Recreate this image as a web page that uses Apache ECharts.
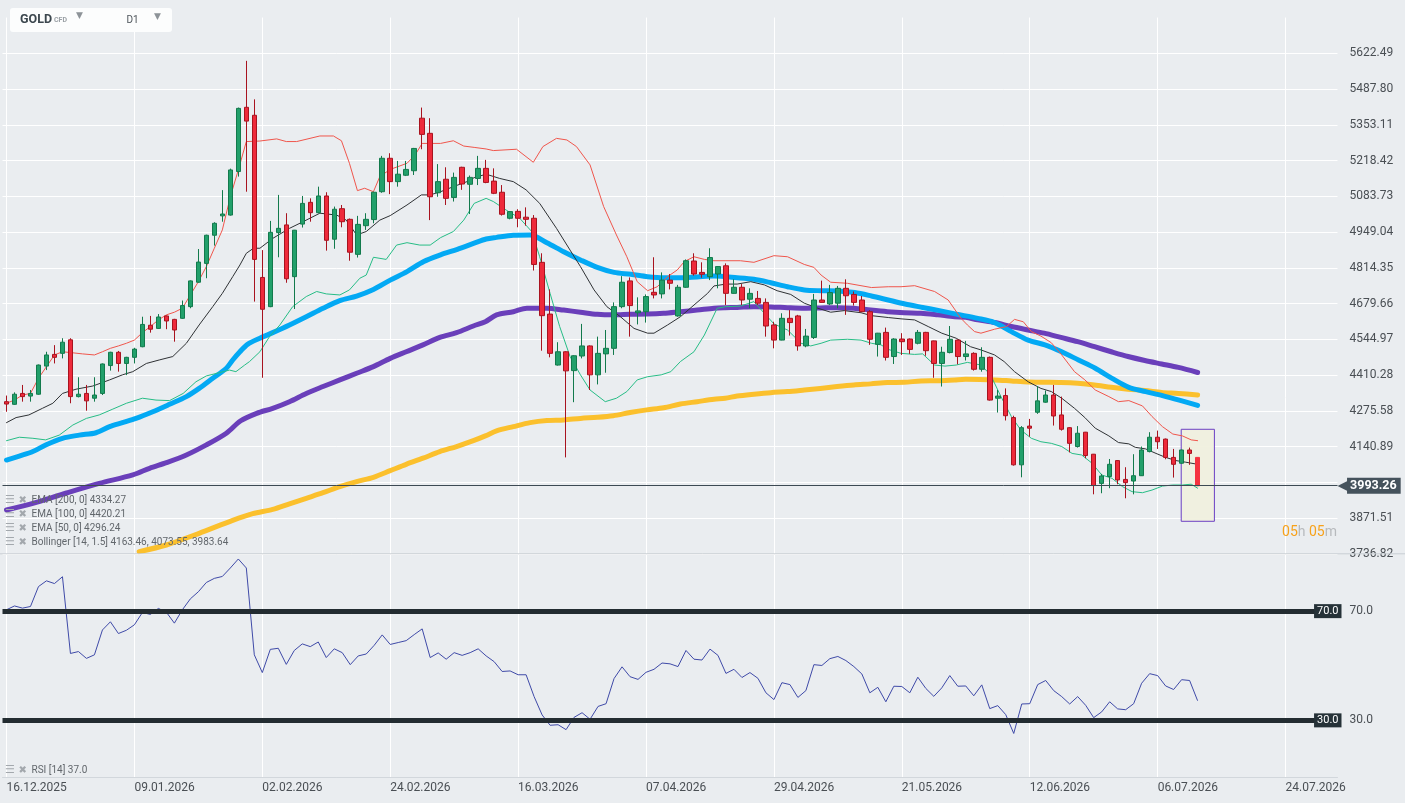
<!DOCTYPE html>
<html>
<head>
<meta charset="utf-8">
<title>GOLD D1</title>
<script src="https://cdn.jsdelivr.net/npm/echarts@6/dist/echarts.min.js"></script>
<style>
  html, body { margin: 0; padding: 0; background: #eaedf0; }
  #chart { width: 1405px; height: 803px; }
</style>
</head>
<body>
<div id="chart"></div>
<script>
// x tick labels, one every 16 candles
const tickLabels = ['16.12.2025', '09.01.2026', '02.02.2026', '24.02.2026', '16.03.2026', '07.04.2026',
  '29.04.2026', '21.05.2026', '12.06.2026', '06.07.2026', '24.07.2026'];

// price axis labels, bottom to top (the one under the price tag is hidden)
const priceLabels = ['3736.82', '3871.51', '', '4140.89', '4275.58', '4410.28', '4544.97', '4679.66',
  '4814.35', '4949.04', '5083.73', '5218.42', '5353.11', '5487.80', '5622.49', ''];
const priceMin = 3736.82;
const priceStep = 134.69;

// daily candles: [open, close, low, high]
const candles = [
  [4310,4301,4272,4333],[4300,4338,4298,4345],[4341,4329,4310,4373],[4331,4341,4310,4354],[4338,4448,4336,4450],
  [4444,4486,4429,4498],[4488,4477,4454,4523],[4492,4534,4473,4549],[4543,4329,4304,4549],[4329,4338,4326,4402],
  [4341,4313,4276,4373],[4323,4335,4310,4402],[4341,4452,4335,4454],[4446,4496,4427,4498],[4496,4454,4423,4501],
  [4454,4477,4410,4479],[4477,4508,4454,4513],[4517,4601,4515,4630],[4598,4583,4570,4633],[4586,4629,4584,4640],
  [4633,4614,4583,4635],[4620,4580,4536,4622],[4624,4672,4622,4691],[4668,4765,4662,4767],[4760,4836,4758,4885],
  [4831,4937,4775,4939],[4937,4982,4898,4986],[5010,5017,4988,5107],[5013,5183,5011,5188],[5177,5415,5158,5418],
  [5419,5367,5101,5594],[5389,4846,4687,5449],[4778,4658,4400,4881],[4668,4948,4666,4991],[4947,4963,4854,5089],
  [4976,4773,4758,5020],[4781,4956,4659,4957],[4979,5057,4966,5085],[5061,5022,4988,5076],[5022,5085,5020,5120],
  [5085,4918,4879,5099],[4922,5035,4886,5045],[5037,4988,4967,5051],[4997,4873,4841,5000],[4865,4978,4853,5010],
  [4973,4997,4957,5020],[4996,5099,4982,5101],[5101,5227,5097,5236],[5227,5139,5092,5246],[5139,5167,5120,5217],
  [5163,5185,5160,5217],[5180,5264,5164,5266],[5378,5317,5261,5418],[5321,5082,4994,5378],[5097,5139,5082,5205],
  [5148,5076,5051,5193],[5079,5155,5064,5173],[5193,5130,5108,5195],[5129,5155,5017,5162],[5151,5189,5126,5236],
  [5189,5136,5133,5221],[5141,5095,5092,5189],[5099,5016,5011,5126],[5001,5026,4997,5027],[5027,5001,4967,5035],
  [5005,4997,4973,5042],[5001,4827,4804,5013],[4835,4634,4502,4869],[4640,4492,4477,4733],[4448,4498,4446,4534],
  [4498,4426,4100,4500],[4427,4483,4308,4485],[4482,4520,4473,4603],[4520,4411,4354,4522],[4411,4492,4375,4555],
  [4490,4511,4419,4580],[4511,4668,4486,4684],[4668,4760,4662,4783],[4765,4672,4555,4778],[4645,4652,4601,4703],
  [4649,4706,4608,4714],[4722,4712,4699,4854],[4716,4768,4699,4797],[4768,4756,4733,4791],[4633,4741,4630,4750],
  [4741,4841,4739,4846],[4840,4791,4785,4869],[4797,4790,4777,4835],[4781,4853,4768,4888],[4791,4819,4737,4821],
  [4822,4718,4674,4831],[4718,4741,4717,4771],[4741,4693,4674,4753],[4696,4718,4662,4737],[4699,4681,4674,4727],
  [4684,4595,4555,4699],[4599,4542,4511,4611],[4542,4624,4541,4643],[4624,4608,4559,4655],[4633,4520,4502,4637],
  [4520,4557,4515,4584],[4552,4693,4546,4716],[4693,4684,4683,4766],[4678,4721,4674,4750],[4681,4737,4662,4746],
  [4737,4709,4637,4771],[4714,4684,4672,4725],[4693,4649,4647,4708],[4649,4545,4524,4655],[4526,4568,4480,4569],
  [4571,4477,4465,4589],[4480,4546,4452,4549],[4546,4536,4486,4568],[4546,4507,4490,4548],[4530,4571,4526,4580],
  [4571,4502,4483,4573],[4539,4454,4400,4540],[4454,4496,4367,4517],[4495,4545,4492,4595],[4542,4480,4451,4544],
  [4480,4490,4465,4539],[4492,4432,4427,4496],[4432,4477,4423,4515],[4477,4316,4314,4480],[4323,4331,4269,4354],
  [4333,4257,4239,4360],[4250,4072,4069,4257],[4072,4212,4025,4218],[4218,4210,4178,4245],[4270,4313,4264,4369],
  [4308,4335,4306,4352],[4335,4256,4220,4373],[4260,4206,4201,4329],[4212,4153,4119,4214],[4141,4191,4137,4218],
  [4195,4107,4097,4196],[4112,3994,3961,4113],[4002,4030,3965,4038],[4028,4074,3984,4094],[4088,4015,3999,4090],
  [4017,4005,3946,4063],[4011,4031,3961,4112],[4031,4128,4030,4141],[4122,4176,4119,4195],[4176,4159,4132,4201],
  [4169,4100,4093,4171],[4100,4074,4024,4132],[4078,4128,4076,4129],[4128,4115,4072,4137],[4100,3993.26,3992,4101]
];

const lastPrice = 3993.26;

// indicator lines: [candle index, value]
const ema50 = [
  [0,4090],[1.6,4105],[3.3,4122],[4.9,4147],[7,4172],[9.1,4184],[11.2,4193],[12.9,4216],[14.5,4231],[16.2,4247],
  [18.3,4272],[20.4,4300],[22.5,4329],[24.1,4360],[25.8,4398],[27.5,4436],[28.3,4467],[29.2,4498],[30.2,4527],[31.7,4549],
  [33.3,4570],[35.4,4599],[37.5,4630],[39.6,4662],[41.7,4691],[43.8,4708],[45.9,4733],[48,4768],[50.1,4800],[52.2,4838],
  [54.3,4863],[56.4,4884],[58.5,4907],[60,4923],[61.3,4929],[63.4,4937],[65.5,4938],[67.6,4909],[69.7,4875],[71.8,4844],
  [73.9,4816],[76,4797],[78.1,4790],[80.2,4781],[82.3,4777],[84.3,4777],[86.4,4780],[88.5,4783],[91.4,4777],[93.5,4771],
  [95.6,4758],[97.7,4743],[99.8,4731],[101.9,4728],[104,4727],[106.1,4721],[108.2,4708],[110.3,4693],[112.4,4678],[114.6,4665],
  [116.7,4653],[118.8,4640],[121.5,4624],[123.6,4608],[125.7,4574],[127.8,4542],[129.9,4524],[132,4498],[134.1,4467],[136.2,4436],
  [138.3,4398],[140.4,4364],[142.5,4348],[144.6,4333],[146.7,4316],[149,4296]
];
const ema100 = [
  [0,3902],[3.3,3927],[7.4,3965],[11.6,4002],[15.8,4034],[17.9,4059],[20,4080],[22.5,4109],[25,4147],[27.5,4191],
  [29.3,4238],[31.3,4266],[33.3,4285],[35.4,4310],[37.5,4341],[39.6,4367],[41.7,4392],[43.8,4417],[45.9,4442],[48,4473],
  [50,4498],[52.1,4524],[54.2,4552],[56.3,4570],[58.4,4595],[59.9,4611],[61.3,4637],[63.4,4649],[65.1,4662],[67.6,4662],
  [69.7,4655],[71.8,4647],[73.9,4639],[75.9,4637],[78,4639],[80.1,4640],[82.2,4643],[84.3,4649],[86.4,4655],[88.5,4662],
  [89.9,4664],[91.4,4665],[93.5,4668],[95.6,4667],[97.7,4664],[99.8,4662],[101.8,4663],[103.9,4664],[106,4662],[108.1,4655],
  [110.2,4649],[112.3,4645],[114.4,4643],[116.5,4637],[118.6,4630],[120,4628],[121.5,4618],[123.6,4608],[125.7,4593],[127.8,4580],
  [129.8,4568],[131.9,4552],[134,4536],[136.1,4517],[138.2,4498],[140.3,4480],[142.4,4465],[144.5,4452],[146.6,4439],[149,4420]
];
const ema200 = [
  [16.6,3745],[20,3770],[24.1,3814],[28.3,3863],[30.8,3888],[33.3,3904],[35.4,3925],[37.5,3946],[39.6,3967],[41.7,3990],
  [43.8,4009],[45.9,4025],[48,4050],[50,4074],[52.1,4097],[54.2,4122],[56.3,4141],[58.4,4163],[59.9,4181],[61.3,4200],
  [63.4,4216],[65.5,4231],[67.6,4239],[69.7,4241],[71.8,4247],[73.9,4251],[75.9,4257],[78,4269],[80.1,4279],[82.2,4287],
  [84.3,4301],[86.4,4310],[88.5,4319],[89.9,4323],[91.4,4331],[93.5,4338],[95.6,4344],[97.7,4348],[99.8,4354],[101.8,4360],
  [103.9,4367],[106,4373],[108.1,4377],[110.2,4382],[112.3,4383],[114.4,4388],[116.5,4389],[118.6,4392],[120,4394],[123.6,4392],
  [125.7,4388],[127.8,4384],[129.8,4383],[131.9,4382],[134,4379],[136.1,4373],[138.2,4364],[140.3,4357],[142.4,4352],[144.5,4345],
  [146.6,4341],[149,4335]
];
const bbUpper = [
  [0,4304],[1,4316],[2,4335],[3,4341],[4,4398],[5,4442],[6,4486],[7,4498],[8,4495],[9.5,4490],[11,4486],[12,4498],
  [13,4511],[14,4520],[15,4530],[16,4542],[17,4570],[18,4593],[19,4618],[20,4637],[21,4647],[22,4662],[23,4712],[24,4762],
  [25,4819],[26,4888],[27,4957],[28,5082],[29,5183],[30,5290],[31.7,5292],[33.8,5300],[35,5290],[36.3,5290],[39.2,5311],
  [40.9,5311],[41.9,5293],[42.9,5208],[43.9,5105],[44.8,5114],[45.9,5101],[46.7,5158],[48,5185],[50.1,5208],[51.1,5239],
  [52,5283],[53,5283],[54.3,5283],[55.9,5293],[57.2,5273],[58.5,5268],[60,5262],[60.9,5256],[63.8,5261],[65.9,5212],
  [67.1,5271],[68.8,5302],[70.1,5296],[71.3,5271],[73,5202],[74.7,5045],[76.3,4938],[77.6,4856],[78.9,4762],[80.2,4728],
  [81.4,4743],[82.7,4781],[83.9,4806],[84.8,4838],[86,4856],[87.3,4846],[88.5,4841],[90,4841],[91.8,4841],[93.5,4835],
  [96,4860],[97.7,4856],[99.8,4827],[101,4816],[101.9,4787],[103.1,4760],[105.2,4756],[108.2,4740],[110.3,4743],[111.9,4743],
  [113.6,4747],[116.1,4725],[117.8,4693],[119.4,4624],[120.2,4599],[121.1,4574],[121.9,4568],[123.6,4583],[125.1,4593],[126.1,4620],
  [127.2,4611],[128.2,4574],[129.4,4557],[130.7,4532],[132,4486],[133.6,4423],[134.9,4392],[136.2,4354],[137.9,4329],[139.1,4310],
  [140.4,4314],[142.1,4294],[143.3,4254],[144.6,4216],[145.9,4188],[147.1,4181],[148.2,4166],[149,4163]
];
const bbMiddle = [
  [0,4231],[1.2,4250],[2.8,4260],[4.5,4285],[5.8,4304],[7,4341],[8.7,4357],[10.8,4369],[12.9,4392],[14.5,4411],
  [15.8,4423],[17.5,4454],[19.1,4467],[20.8,4480],[22.5,4530],[24.1,4599],[25.8,4668],[27,4718],[28.3,4781],[29.2,4825],
  [30,4869],[30.9,4888],[31.7,4888],[33.3,4925],[35.4,4963],[37.1,4988],[39.2,5020],[41.3,5013],[42.5,4994],[43.8,4938],
  [45,4951],[46.7,4994],[48,5011],[50.1,5051],[51.9,5089],[53,5089],[54.3,5101],[55.9,5120],[57.6,5139],[58.5,5154],
  [60,5167],[61.7,5151],[63.4,5139],[65,5108],[66.7,5057],[68.8,4963],[70.5,4881],[71.8,4819],[73.5,4731],[75.1,4668],
  [76.8,4630],[78.5,4586],[80.2,4568],[81,4568],[82.7,4599],[84.3,4630],[86,4674],[87.7,4718],[88.5,4746],[90,4753],
  [91.4,4753],[93.1,4762],[94.8,4750],[96.4,4728],[98.1,4714],[99.8,4681],[101.5,4662],[103.1,4647],[104.8,4653],[106.9,4645],
  [108.2,4634],[110.3,4627],[111.9,4622],[113.6,4618],[115.3,4593],[117,4568],[118.8,4549],[120.6,4517],[121.9,4505],[123.6,4486],
  [124.8,4461],[126.1,4423],[127.8,4385],[129.4,4360],[130.7,4348],[132,4323],[133.6,4285],[134.9,4250],[136.2,4210],[137.9,4181],
  [139.1,4156],[140.4,4151],[141.2,4138],[142.5,4132],[143.8,4115],[145,4100],[146.3,4088],[147.5,4082],[149,4074]
];
const bbLower = [
  [0,4163],[1.6,4176],[3.3,4172],[4.9,4166],[6.6,4184],[8.3,4222],[10,4247],[11.6,4260],[13.3,4282],[15,4304],
  [17,4323],[18.7,4316],[20.4,4314],[22.1,4341],[23.7,4385],[25,4407],[26.6,4419],[27.9,4429],[28.7,4423],[29.8,4448],
  [30.4,4461],[31.7,4498],[32.9,4555],[34.2,4599],[35.8,4668],[37.5,4706],[38.8,4725],[40,4716],[41.7,4712],[42.9,4731],
  [44.2,4775],[45,4787],[45.9,4854],[47.5,4846],[48.8,4900],[50.1,4909],[51.7,4900],[53,4900],[54.3,4928],[55.9,4951],
  [57.2,4994],[58.5,5057],[60,5076],[60.9,5064],[62.5,5032],[64.2,5001],[65.7,4951],[66.7,4856],[68,4718],[69.2,4593],
  [70.5,4480],[71.8,4411],[73,4354],[74.9,4310],[76.3,4323],[77.6,4348],[78.9,4392],[80.2,4404],[81.9,4411],[83.1,4423],
  [84.3,4461],[86,4498],[87.3,4561],[88.9,4662],[90,4668],[91.8,4670],[93.5,4687],[94.8,4643],[96,4603],[97.7,4580],
  [99.4,4530],[100.6,4520],[101.9,4530],[103.1,4542],[105.2,4545],[106.9,4542],[108.2,4530],[109.4,4524],[110.3,4507],[111.9,4492],
  [113.6,4488],[114.6,4490],[116.1,4448],[117.4,4444],[118.8,4448],[120.2,4458],[121.9,4448],[123.1,4411],[124.4,4329],[125.7,4254],
  [126.9,4203],[128.2,4172],[129.4,4159],[130.7,4153],[132,4141],[133.3,4115],[134.5,4109],[135.8,4078],[137,4034],[138.3,4021],
  [139.6,3990],[140.8,3971],[142.1,3967],[143.3,3977],[144.6,3992],[145.9,3996],[147.1,3996],[148.2,3999],[149,3984]
];

// RSI(14), one value per candle
const rsi = [
  70.5,71.9,71.1,71.7,79.0,81.1,80.1,82.6,54.5,55.2,
  52.7,54.0,63.1,66.1,61.8,63.0,65.0,69.5,68.8,71.0,
  69.6,65.6,70.5,74.5,77.1,80.5,82.0,82.7,85.8,89.1,
  85.8,54.0,47.5,56.0,56.4,50.5,55.6,58.0,57.0,58.7,
  53.0,56.2,54.8,50.4,53.6,54.3,57.5,61.3,57.8,58.5,
  59.2,61.4,63.5,53.0,54.7,52.4,54.8,53.8,54.8,56.2,
  53.6,51.5,47.9,48.1,46.7,46.7,38.7,32.0,28.2,28.4,
  26.6,31.1,32.8,30.4,35.1,36.1,45.3,49.6,46.0,45.0,
  47.6,48.7,51.0,50.7,49.7,55.6,52.4,52.1,56.1,53.8,
  47.2,48.7,45.7,47.5,45.4,40.1,37.6,43.8,43.1,38.4,
  40.9,50.4,50.1,52.6,53.4,51.9,49.7,47.0,40.1,42.1,
  36.8,42.5,42.4,40.1,45.8,41.7,38.8,41.9,46.4,42.5,
  42.6,39.0,43.0,34.3,35.4,32.1,25.2,36.0,36.1,43.1,
  44.6,40.9,38.7,36.0,38.7,35.5,31.0,33.1,36.8,34.2,
  33.9,36.1,43.6,47.1,46.4,42.6,41.3,44.9,44.6,37.2
];
const rsiLevels = [70, 30];

// selection box over the last candles: [index, price] corners
const boxFrom = [146.95, 4205.9];
const boxTo = [151.1, 3859.3];

const legendRows = [
  'EMA [200, 0] 4334.27',
  'EMA [100, 0] 4420.21',
  'EMA [50, 0] 4296.24',
  'Bollinger [14, 1.5] 4163.46, 4073.55, 3983.64'
];
const rsiLegend = 'RSI [14] 37.0';

const FONT = 'Roboto, "DejaVu Sans", sans-serif';
const SYM = '"DejaVu Sans", sans-serif';

const chart = echarts.init(document.getElementById('chart'), null, { renderer: 'canvas' });

const candleData = candles.map((c, i) => {
  const item = { value: [i, c[0], c[1], c[2], c[3]] };
  if (i === candles.length - 1) {
    item.itemStyle = { color0: '#f5333f', borderColor0: '#f5333f' };
  }
  return item;
});

function lineSeries(name, data, color, width, smooth, z) {
  return {
    name: name,
    type: 'line',
    xAxisIndex: 0,
    yAxisIndex: 0,
    data: data,
    showSymbol: false,
    smooth: smooth,
    z: z,
    silent: true,
    lineStyle: { color: color, width: width, cap: 'round', join: 'round' }
  };
}

// legend rows: list icon, close icon, text
const legendGraphics = [];
function legendRow(text, y) {
  legendGraphics.push(
    { type: 'text', x: 5, y: y, style: { text: '☰', font: '11px ' + SYM, fill: '#a3a8ad', verticalAlign: 'middle' } },
    { type: 'text', x: 18.5, y: y, style: { text: '✖', font: '10px ' + SYM, fill: '#a3a8ad', verticalAlign: 'middle' } },
    { type: 'text', x: 31.5, y: y, style: { text: text, font: '10px ' + FONT, fill: '#62676c', verticalAlign: 'middle' } }
  );
}
legendRows.forEach((t, k) => legendRow(t, 500 + k * 14.2));
legendRow(rsiLegend, 770.5);

const option = {
  backgroundColor: '#eaedf0',
  animation: false,
  textStyle: { fontFamily: FONT },
  grid: [
    { left: 2.5, right: 67.5, top: 17.55, height: 536.25 },   // price
    { left: 2.5, right: 67.5, top: 553.8, height: 223.9 },    // RSI
    { left: 6.5, width: 1279.04, top: 17.55, height: 760.15 } // date grid lines
  ],
  xAxis: [
    { type: 'value', gridIndex: 0, min: -0.5, max: 166.5, show: false },
    {
      type: 'value', gridIndex: 1, min: -0.5, max: 166.5,
      axisLine: { show: true, onZero: false, lineStyle: { color: '#d2d7dc' } },
      axisTick: { show: false }, axisLabel: { show: false }, splitLine: { show: false }
    },
    {
      type: 'value', gridIndex: 2, min: 0, max: 160, interval: 16,
      axisLine: { show: false }, axisTick: { show: false },
      splitLine: { show: true, lineStyle: { color: '#ffffff', width: 1 } },
      axisLabel: {
        show: true, align: 'left', margin: 4, color: '#4a4f54', fontSize: 12, fontFamily: FONT,
        showMinLabel: true, showMaxLabel: true,
        formatter: v => tickLabels[Math.round(v / 16)] || ''
      }
    }
  ],
  yAxis: [
    {
      type: 'value', gridIndex: 0, position: 'right', min: priceMin, max: priceMin + 15 * priceStep, interval: priceStep,
      axisLine: { show: false }, axisTick: { show: false },
      splitLine: { show: true, showMaxLine: false, lineStyle: { color: '#ffffff', width: 1 } },
      axisLabel: {
        margin: 12, color: '#4a4f54', fontSize: 12, fontFamily: FONT,
        showMaxLabel: false, showMinLabel: true,
        formatter: v => priceLabels[Math.round((v - priceMin) / priceStep)] || ''
      }
    },
    {
      type: 'value', gridIndex: 1, position: 'right', min: 9, max: 91,
      axisLine: { show: false }, axisTick: { show: false }, splitLine: { show: false },
      axisLabel: {
        customValues: rsiLevels, margin: 12, color: '#4a4f54', fontSize: 12, fontFamily: FONT,
        formatter: v => v.toFixed(1)
      }
    },
    {
      type: 'value', gridIndex: 1, position: 'right', offset: 4, min: 9, max: 91, z: 20,
      axisLine: { show: false }, axisTick: { show: false }, splitLine: { show: false },
      axisLabel: {
        inside: true, customValues: rsiLevels, margin: 0, color: '#ffffff', fontSize: 11, fontFamily: FONT,
        backgroundColor: '#263238', padding: [2, 3, 1, 3],
        formatter: v => v.toFixed(1)
      }
    },
    { type: 'value', gridIndex: 2, show: false, min: 0, max: 1 }
  ],
  series: [
    lineSeries('EMA 200', ema200, '#fbc02d', 5, 0.3, 2),
    lineSeries('EMA 100', ema100, '#6a3fba', 5, 0.3, 2),
    lineSeries('EMA 50', ema50, '#03a9f4', 5, 0.3, 2),
    lineSeries('BB upper', bbUpper, '#f0564c', 1, false, 2),
    lineSeries('BB lower', bbLower, '#27bd86', 1, false, 2),
    Object.assign(lineSeries('BB middle', bbMiddle, '#2f3235', 1, false, 2), {
      markArea: {
        silent: true,
        itemStyle: { color: 'rgba(240,240,222,0.95)', borderColor: '#6b3fc4', borderWidth: 1 },
        data: [[{ coord: boxFrom }, { coord: boxTo }]]
      }
    }),
    {
      name: 'GOLD',
      type: 'candlestick',
      xAxisIndex: 0,
      yAxisIndex: 0,
      z: 3,
      barWidth: 5,
      encode: { x: 0, y: [1, 2, 3, 4] },
      data: candleData,
      silent: true,
      itemStyle: {
        color: '#22a06b', color0: '#ee2a3b',
        borderColor: '#127a4c', borderColor0: '#a8131f', borderWidth: 1
      },
      markLine: {
        silent: true,
        symbol: ['none', 'none'],
        lineStyle: { color: '#3d4a53', width: 1, type: 'solid' },
        label: {
          show: true, position: 'end', distance: 0,
          formatter: '{a|◀}{b|' + lastPrice.toFixed(2) + '}',
          rich: {
            a: { color: '#45525c', fontSize: 15, fontFamily: SYM, lineHeight: 16, padding: [0, -2, 0, 0] },
            b: { backgroundColor: '#45525c', color: '#ffffff', fontWeight: 'bold', fontSize: 12.5,
                 fontFamily: FONT, padding: [2, 4, 1, 3], lineHeight: 14 }
          }
        },
        data: [{ yAxis: lastPrice }]
      }
    },
    {
      name: 'RSI',
      type: 'line',
      xAxisIndex: 1,
      yAxisIndex: 1,
      data: rsi.map((v, i) => [i, v]),
      showSymbol: false,
      silent: true,
      z: 3,
      lineStyle: { color: '#3f4aa8', width: 1 },
      markLine: {
        silent: true,
        symbol: ['none', 'none'],
        label: { show: false },
        lineStyle: { color: '#232c31', width: 5, type: 'solid' },
        data: rsiLevels.map(v => ({ yAxis: v }))
      }
    }
  ],
  graphic: [
    { type: 'line', z: 50, shape: { x1: 0, y1: 553.8, x2: 1405, y2: 553.8 }, style: { stroke: '#c9ced3', lineWidth: 1 } },
    { type: 'rect', z: 50, shape: { x: 10, y: 8, width: 162, height: 24, r: 3 }, style: { fill: '#fcfdfd' } },
    { type: 'text', z: 51, x: 20, y: 19.5, style: { text: 'GOLD', font: 'bold 12.5px ' + FONT, fill: '#3c474e', verticalAlign: 'middle' } },
    { type: 'text', z: 51, x: 54, y: 20, style: { text: 'CFD', font: 'bold 7px ' + FONT, fill: '#9aa0a5', verticalAlign: 'middle' } },
    { type: 'text', z: 51, x: 76, y: 16, style: { text: '▼', font: '9px ' + SYM, fill: '#8d9398', verticalAlign: 'middle' } },
    { type: 'text', z: 51, x: 126.5, y: 20, style: { text: 'D1', font: '10px ' + FONT, fill: '#4e555b', verticalAlign: 'middle' } },
    { type: 'text', z: 51, x: 154, y: 16.5, style: { text: '▼', font: '9px ' + SYM, fill: '#8d9398', verticalAlign: 'middle' } },
    {
      type: 'text', z: 51, x: 1337, y: 532.5,
      style: {
        text: '{o|05}{g|h} {o|05}{g|m}', align: 'right', verticalAlign: 'middle', font: '14px ' + FONT,
        rich: {
          o: { fill: '#f7a21b', fontSize: 14, fontFamily: FONT },
          g: { fill: '#b7babd', fontSize: 14, fontFamily: FONT }
        }
      }
    }
  ].concat(legendGraphics.map(g => Object.assign({ z: 51 }, g)))
};

chart.setOption(option);
</script>
</body>
</html>
